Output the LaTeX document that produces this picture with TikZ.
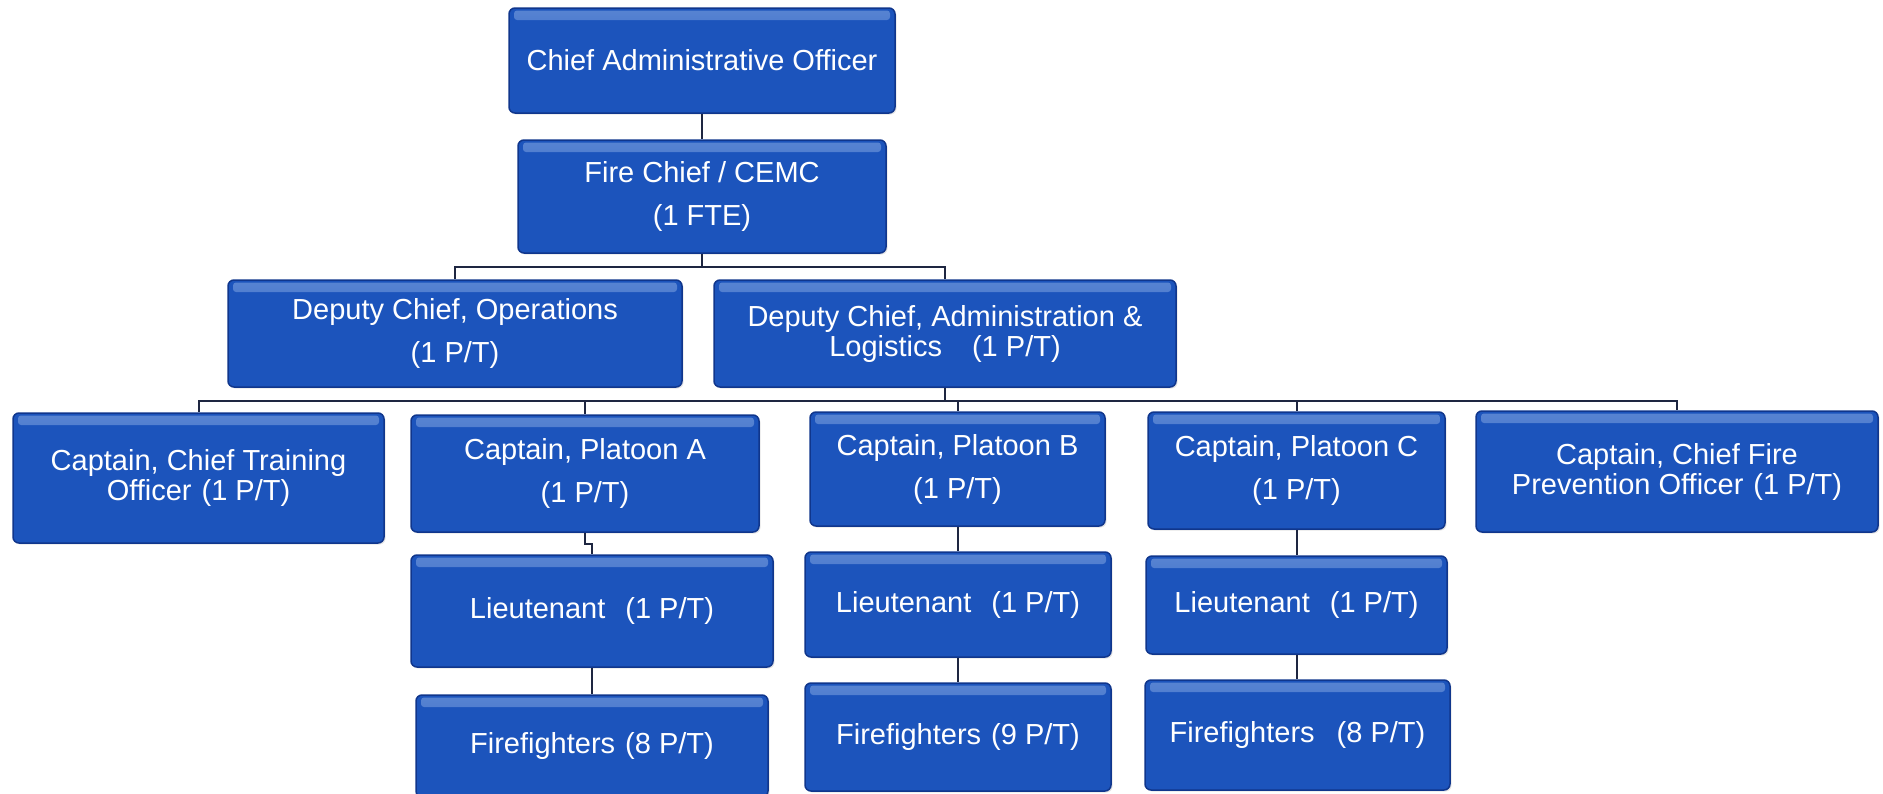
\documentclass[tikz,border=0pt]{standalone}
\usepackage{fontspec}
\setmainfont{Liberation Sans}
\usetikzlibrary{shadows}
\definecolor{boxblue}{RGB}{28,84,188}
\definecolor{boxdark}{RGB}{16,54,140}
\definecolor{boxlight}{RGB}{88,132,210}
\definecolor{linecol}{RGB}{30,38,65}
\tikzset{
  orgbox/.style={rectangle, rounded corners=6pt, draw=boxdark, line width=1.5pt,
    fill=boxblue, text=white, align=center, inner sep=0pt,
    font=\fontsize{29}{34}\selectfont,
    drop shadow={opacity=0.2, shadow xshift=1.5pt, shadow yshift=-1.5pt},
    path picture={\shade[rounded corners=3pt, top color=boxlight, bottom color=boxblue]
      ([xshift=5pt,yshift=-2.5pt]path picture bounding box.north west) rectangle
      ([xshift=-5pt,yshift=-12pt]path picture bounding box.north east);}},
  link/.style={draw=linecol, line width=2pt}
}
\begin{document}
\begin{tikzpicture}[x=1pt,y=-1pt]
\useasboundingbox (0,0) rectangle (1883,793);
\fill[white] (0,0) rectangle (1883,793);
\clip (0,0) rectangle (1883,793);

% level 1-3
\node[orgbox, minimum width=386pt, minimum height=105pt] (cao) at (702,60.5) {Chief Administrative Officer};
\node[orgbox, minimum width=368pt, minimum height=113pt] (fc) at (702,196.5) {Fire Chief / CEMC\\[9pt](1 FTE)};
\node[orgbox, minimum width=454pt, minimum height=107pt] (dops) at (455,333.5) {Deputy Chief, Operations\\[9pt](1 P/T)};
\node[orgbox, minimum width=462pt, minimum height=107pt] (dadm) at (945,333.5) {Deputy Chief, Administration \&\\[-4pt]Logistics\hspace{30pt}(1 P/T)};

% captains
\node[orgbox, minimum width=371pt, minimum height=130pt] (ctr) at (198.5,478) {Captain, Chief Training\\[-4pt]Officer\hspace{10pt}(1 P/T)};
\node[orgbox, minimum width=348pt, minimum height=117pt] (ca) at (585,473.5) {Captain, Platoon A\\[9pt](1 P/T)};
\node[orgbox, minimum width=295pt, minimum height=114pt] (cb) at (957.5,469) {Captain, Platoon B\\[9pt](1 P/T)};
\node[orgbox, minimum width=297pt, minimum height=117pt] (cc) at (1296.5,470.5) {Captain, Platoon C\\[9pt](1 P/T)};
\node[orgbox, minimum width=402pt, minimum height=121pt] (cfp) at (1677,471.5) {Captain, Chief Fire\\[-4pt]Prevention Officer\hspace{10pt}(1 P/T)};

% lieutenants
\node[orgbox, minimum width=362pt, minimum height=112pt] (la) at (592,611) {Lieutenant\hspace{20pt}(1 P/T)};
\node[orgbox, minimum width=306pt, minimum height=105pt] (lb) at (958,604.5) {Lieutenant\hspace{20pt}(1 P/T)};
\node[orgbox, minimum width=301pt, minimum height=98pt] (lc) at (1296.5,605) {Lieutenant\hspace{20pt}(1 P/T)};

% firefighters
\node[orgbox, minimum width=352pt, minimum height=102pt] (fa) at (592,746) {Firefighters\hspace{10pt}(8 P/T)};
\node[orgbox, minimum width=306pt, minimum height=108pt] (fb) at (958,737) {Firefighters\hspace{10pt}(9 P/T)};
\node[orgbox, minimum width=305pt, minimum height=110pt] (ff) at (1297.5,735) {Firefighters\hspace{22pt}(8 P/T)};

% connectors
\draw[link] (cao.south) -- (fc.north);
\draw[link] (fc.south) -- ++(0,13) -| (dops.north);
\draw[link] (fc.south) -- ++(0,13) -| (dadm.north);
\draw[link] (dadm.south) -- ++(0,13) coordinate (bus);
\draw[link] (bus) -| (ctr.north);
\draw[link] (bus) -| (ca.north);
\draw[link] (bus) -| (cb.north);
\draw[link] (bus) -| (cc.north);
\draw[link] (bus) -| (cfp.north);
\draw[link] (ca.south) -- ++(0,11) -| (la.north);
\draw[link] (la.south) -- (fa.north);
\draw[link] (cb.south) -- (cb.south |- lb.north);
\draw[link] (lb.south) -- (lb.south |- fb.north);
\draw[link] (cc.south) -- (cc.south |- lc.north);
\draw[link] (lc.south) -- (lc.south |- ff.north);
\end{tikzpicture}
\end{document}
